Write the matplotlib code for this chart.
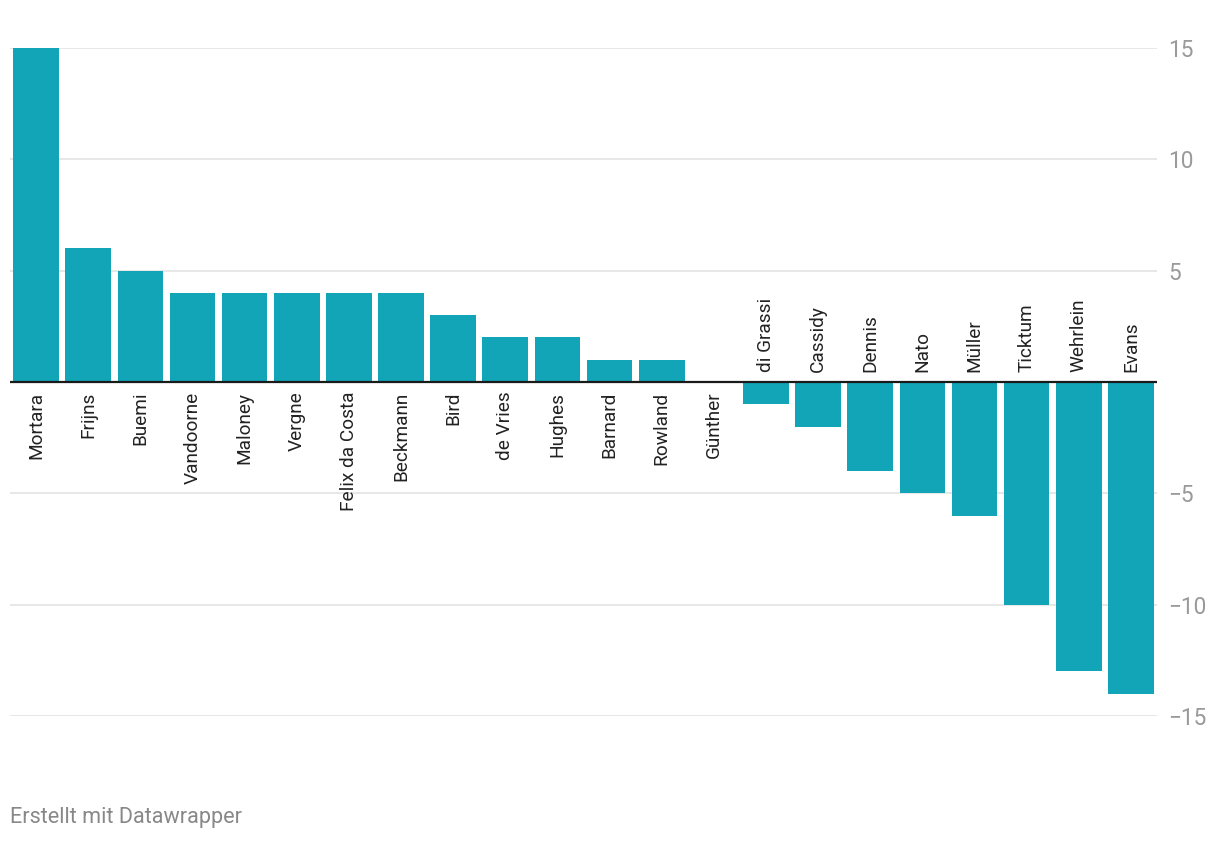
import numpy as np
import matplotlib.pyplot as plt

plt.rcParams['font.family'] = ['Roboto', 'DejaVu Sans']

# driver points difference
drivers = ['Mortara', 'Frijns', 'Buemi', 'Vandoorne', 'Maloney', 'Vergne',
           'Felix da Costa', 'Beckmann', 'Bird', 'de Vries', 'Hughes', 'Barnard',
           'Rowland', 'Günther', 'di Grassi', 'Cassidy', 'Dennis', 'Nato',
           'Müller', 'Ticktum', 'Wehrlein', 'Evans']
values = [15, 6, 5, 4, 4, 4, 4, 4, 3, 2, 2, 1, 1, 0, -1, -2, -4, -5, -6, -10, -13, -14]
yticks = [-15, -10, -5, 5, 10, 15]

BAR = '#12a5b8'

fig = plt.figure(figsize=(12.2, 8.44), dpi=100)
W, H = 1220, 844
ax = fig.add_axes([10 / W, (H - 716) / H, (1157 - 10) / W, (716 - 48) / H])

x = np.arange(len(drivers))
ax.bar(x, values, width=0.875, color=BAR, zorder=2)

ax.set_xlim(-0.5, len(drivers) - 0.5)
ax.set_ylim(-15, 15)

# gridlines + zero line
for t in yticks:
    ax.axhline(t, color='#e3e3e3', lw=1.2, zorder=0)
ax.axhline(0, color='#1a1a1a', lw=1.6, zorder=3)

# driver labels next to the zero line
for xi, name, v in zip(x, drivers, values):
    if v >= 0:
        ax.annotate(name, (xi, 0), xytext=(0, -7), textcoords='offset points',
                    rotation=90, ha='center', va='top', fontsize=13.7,
                    color='#222222')
    else:
        ax.annotate(name, (xi, 0), xytext=(0, 7.5), textcoords='offset points',
                    rotation=90, ha='center', va='bottom', fontsize=13.7,
                    color='#222222')

ax.set_xticks([])
ax.yaxis.tick_right()
ax.set_yticks(yticks)
ax.set_yticklabels([f'{t}'.replace('-', '\u2212') for t in yticks])
ax.tick_params(axis='y', length=0, pad=8, labelsize=16.3, labelcolor='#9a9a9a')
for s in ax.spines.values():
    s.set_visible(False)

fig.text(10 / W, 1 - 818 / H, 'Erstellt mit Datawrapper', fontsize=15.6,
         color='#888888', ha='left', va='center')

fig.savefig('out.png', dpi=100)
